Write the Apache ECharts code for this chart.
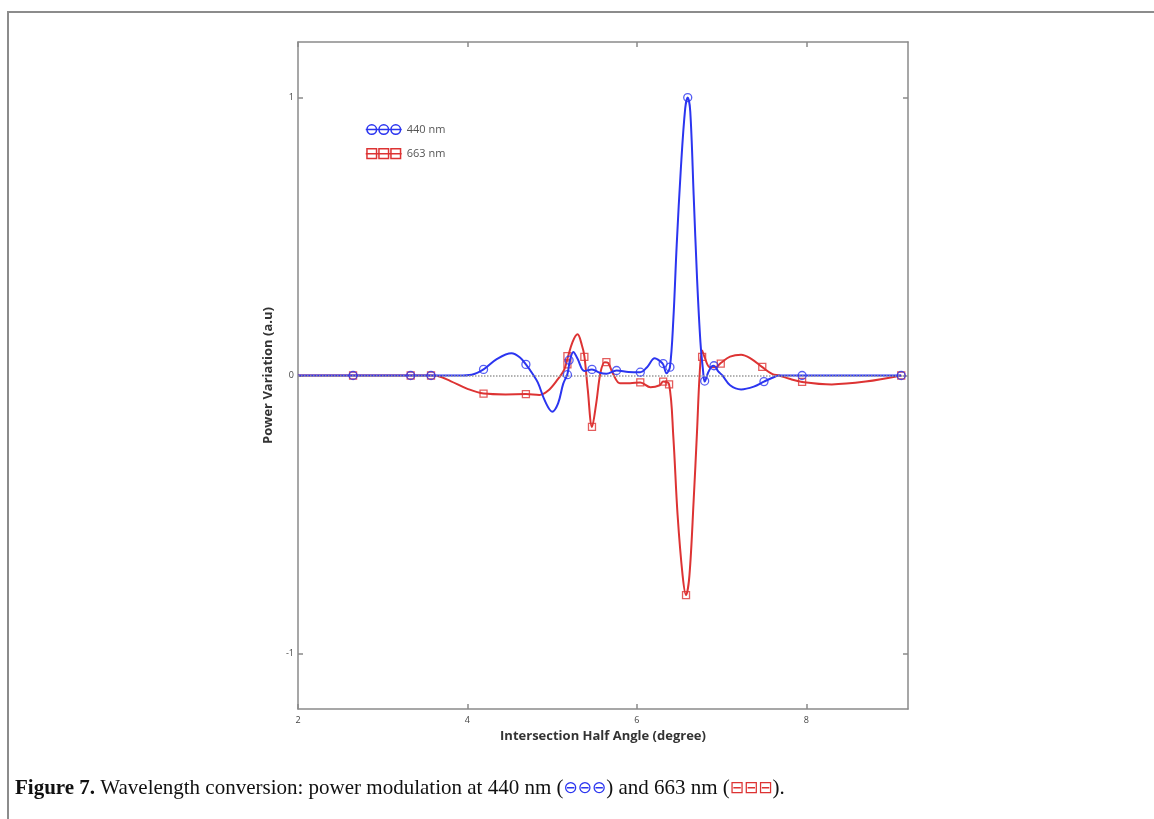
<!DOCTYPE html>
<html>
<head>
<meta charset="utf-8">
<script src="https://cdn.jsdelivr.net/npm/echarts@6/dist/echarts.min.js"></script>
<style>
  html, body { margin: 0; padding: 0; background: #fff; }
  #main { width: 1154px; height: 819px; }
</style>
</head>
<body>
<div id="main"></div>
<script>
// curves, [angle, power]
var blueCurve = [
  [2.0, 0], [2.65, 0], [3.33, 0], [3.57, 0], [3.9, 0], [4.05, 0.003], [4.19, 0.022],
  [4.35, 0.06], [4.52, 0.08], [4.62, 0.065], [4.69, 0.04], [4.76, 0.01], [4.83, -0.025],
  [4.92, -0.095], [5.0, -0.13], [5.07, -0.1], [5.13, -0.03], [5.18, 0.005], [5.21, 0.055],
  [5.25, 0.085], [5.3, 0.06], [5.38, 0.016], [5.47, 0.022], [5.56, 0.01], [5.64, 0.006],
  [5.76, 0.018], [5.9, 0.013], [6.04, 0.012], [6.12, 0.03], [6.21, 0.062], [6.28, 0.05],
  [6.31, 0.04], [6.35, 0.008], [6.39, 0.03], [6.43, 0.2], [6.47, 0.47], [6.52, 0.75],
  [6.57, 0.96], [6.6, 1.0], [6.63, 0.95], [6.67, 0.65], [6.71, 0.35], [6.75, 0.12],
  [6.78, 0.02], [6.8, -0.022], [6.84, 0.01], [6.88, 0.032], [6.91, 0.035], [6.96, 0.015],
  [7.01, 0], [7.1, -0.035], [7.23, -0.05], [7.38, -0.04], [7.5, -0.022], [7.6, -0.008],
  [7.68, 0], [7.95, 0], [8.5, 0], [9.12, 0]
];
var blueMarks = [
  [2.65, 0], [3.33, 0], [3.57, 0], [4.19, 0.022], [4.69, 0.04], [5.18, 0.003], [5.2, 0.055],
  [5.47, 0.022], [5.76, 0.018], [6.04, 0.012], [6.31, 0.043], [6.39, 0.03], [6.6, 1.0],
  [6.8, -0.02], [6.91, 0.035], [7.5, -0.022], [7.95, 0], [9.12, 0]
];
var redCurve = [
  [2.0, 0], [2.65, 0], [3.33, 0], [3.57, 0], [3.65, -0.002], [3.8, -0.02], [4.0, -0.048],
  [4.19, -0.065], [4.45, -0.068], [4.69, -0.067], [4.85, -0.07], [4.95, -0.055], [5.05, -0.02],
  [5.14, 0.02], [5.18, 0.06], [5.24, 0.12], [5.3, 0.148], [5.35, 0.11], [5.38, 0.07],
  [5.42, -0.05], [5.47, -0.185], [5.52, -0.1], [5.57, 0.01], [5.62, 0.048], [5.66, 0.045],
  [5.72, 0.005], [5.8, -0.028], [5.92, -0.028], [6.04, -0.025], [6.16, -0.042], [6.27, -0.035],
  [6.31, -0.022], [6.38, -0.032], [6.43, -0.22], [6.48, -0.5], [6.54, -0.72], [6.58, -0.79],
  [6.62, -0.72], [6.67, -0.45], [6.71, -0.2], [6.74, 0], [6.77, 0.09], [6.8, 0.065],
  [6.86, 0.03], [6.93, 0.03], [6.99, 0.045], [7.1, 0.068], [7.23, 0.075], [7.35, 0.06],
  [7.48, 0.03], [7.6, 0.005], [7.68, 0], [7.8, -0.012], [7.95, -0.023], [8.3, -0.032],
  [8.7, -0.022], [9.12, 0]
];
var redMarks = [
  [2.65, 0], [3.33, 0], [3.57, 0], [4.19, -0.065], [4.69, -0.067], [5.18, 0.04], [5.18, 0.07],
  [5.38, 0.067], [5.47, -0.185], [5.64, 0.048], [6.04, -0.025], [6.31, -0.022], [6.38, -0.032],
  [6.58, -0.79], [6.77, 0.067], [6.99, 0.043], [7.48, 0.031], [7.95, -0.023], [9.12, 0]
];
var xTicks = [2, 4, 6, 8];
var yTicks = [-1, 0, 1];

var blue = '#2b35f0';
var red = '#dd3333';
var axisGray = '#8a8a8a';

var circIcon = 'path://M0,5L30,5M1,5A4,4,0,1,0,9,5A4,4,0,1,0,1,5M11,5A4,4,0,1,0,19,5A4,4,0,1,0,11,5M21,5A4,4,0,1,0,29,5A4,4,0,1,0,21,5';
var sqIcon = 'path://M0,5L30,5M1,1L9,1L9,9L1,9ZM11,1L19,1L19,9L11,9ZM21,1L29,1L29,9L21,9Z';

var myChart = echarts.init(document.getElementById('main'));

var boxAxis = {
  show: true,
  onZero: false,
  lineStyle: { color: axisGray, width: 1.5 }
};

var option = {
  backgroundColor: '#fff',
  animation: false,
  grid: { left: 298, right: 246, top: 42, bottom: 110, containLabel: false },
  legend: {
    left: 360, top: 119, orient: 'vertical', itemGap: 13,
    itemWidth: 36, itemHeight: 10,
    textStyle: { fontFamily: 'Open Sans', fontSize: 11, color: '#555' },
    data: [
      { name: '440 nm', icon: circIcon, itemStyle: { color: 'transparent', borderColor: blue, borderWidth: 1.5 } },
      { name: '663 nm', icon: sqIcon, itemStyle: { color: 'transparent', borderColor: red, borderWidth: 1.5 } }
    ]
  },
  xAxis: [
    {
      type: 'value', min: 2, max: 9.2,
      name: 'Intersection Half Angle (degree)', nameLocation: 'middle', nameGap: 18,
      nameTextStyle: { fontFamily: 'Open Sans', fontWeight: 'bold', fontSize: 13, color: '#333' },
      axisLine: boxAxis,
      axisTick: { inside: true, length: 5, lineStyle: { color: axisGray, width: 1.5 }, customValues: xTicks },
      axisLabel: { fontFamily: 'Open Sans', fontSize: 9, color: '#444', margin: 7, customValues: xTicks },
      splitLine: { show: false }
    },
    {
      type: 'value', min: 2, max: 9.2, position: 'top',
      axisLine: boxAxis,
      axisTick: { inside: true, length: 5, lineStyle: { color: axisGray, width: 1.5 }, customValues: xTicks },
      axisLabel: { show: false },
      splitLine: { show: false }
    }
  ],
  yAxis: [
    {
      type: 'value', min: -1.2, max: 1.2,
      name: 'Power Variation (a.u)', nameLocation: 'middle', nameGap: 20, nameRotate: 90,
      nameTextStyle: { fontFamily: 'Open Sans', fontWeight: 'bold', fontSize: 13, color: '#333' },
      axisLine: boxAxis,
      axisTick: { inside: true, length: 5, lineStyle: { color: axisGray, width: 1.5 }, customValues: yTicks },
      axisLabel: { fontFamily: 'Open Sans', fontSize: 9, color: '#444', margin: 4, customValues: yTicks },
      splitLine: { show: false }
    },
    {
      type: 'value', min: -1.2, max: 1.2, position: 'right',
      axisLine: boxAxis,
      axisTick: { inside: true, length: 5, lineStyle: { color: axisGray, width: 1.5 }, customValues: yTicks },
      axisLabel: { show: false },
      splitLine: { show: false }
    }
  ],
  series: [
    {
      name: '663 nm', type: 'line', data: redCurve, smooth: 0.35, showSymbol: false,
      lineStyle: { color: red, width: 2 }, itemStyle: { color: red },
      markLine: {
        silent: true, symbol: 'none', label: { show: false },
        lineStyle: { color: '#999', type: 'dotted', width: 1.5 },
        data: [{ yAxis: 0 }]
      },
      z: 2
    },
    {
      name: '663 nm', type: 'scatter', data: redMarks, symbol: 'rect', symbolSize: 7,
      itemStyle: { color: 'rgba(255,255,255,0)', borderColor: red, borderWidth: 1.3, opacity: 0.8 },
      z: 3
    },
    {
      name: '440 nm', type: 'line', data: blueCurve, smooth: 0.35, showSymbol: false,
      lineStyle: { color: blue, width: 2 }, itemStyle: { color: blue },
      z: 4
    },
    {
      name: '440 nm', type: 'scatter', data: blueMarks, symbol: 'circle', symbolSize: 8,
      itemStyle: { color: 'rgba(255,255,255,0)', borderColor: blue, borderWidth: 1.3, opacity: 0.8 },
      z: 5
    }
  ],
  graphic: [
    {
      type: 'polyline', silent: true,
      shape: { points: [[8, 819], [8, 12], [1154, 12]] },
      style: { stroke: '#8c8c8c', lineWidth: 2, fill: null }
    },
    {
      type: 'text', left: 15, top: 778,
      style: {
        text: '{b|Figure 7.} Wavelength conversion: power modulation at 440 nm ({c|\u2296\u2296\u2296}) and 663 nm ({r|\u229F\u229F\u229F}).',
        fontFamily: 'Liberation Serif', fontSize: 21, fill: '#111',
        rich: {
          b: { fontFamily: 'Liberation Serif', fontWeight: 'bold', fontSize: 21, fill: '#111' },
          c: { fontFamily: 'DejaVu Sans', fontSize: 17, fill: blue },
          r: { fontFamily: 'DejaVu Sans', fontSize: 17, fill: red }
        }
      }
    }
  ]
};

option && myChart.setOption(option);
window.onresize = myChart.resize;
</script>
</body>
</html>
